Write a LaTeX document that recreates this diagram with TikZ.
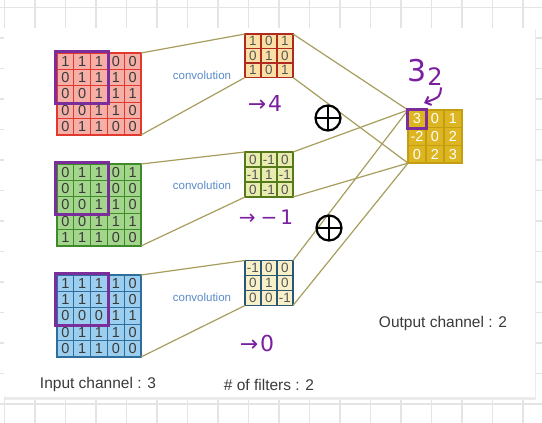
\documentclass[tikz,border=0pt]{standalone}
\usepackage{fontspec}
\setmainfont{Liberation Sans}
\newfontfamily\handfont{DejaVu Sans}
\usetikzlibrary{arrows.meta,fit}
\definecolor{redfill}{HTML}{F5AFA6}
\definecolor{redline}{HTML}{E03A2E}
\definecolor{grnfill}{HTML}{A3D68C}
\definecolor{grnline}{HTML}{3F8A2B}
\definecolor{blufill}{HTML}{9CCFEF}
\definecolor{bluline}{HTML}{2F6E9C}
\definecolor{fonefill}{HTML}{FBE0A6}
\definecolor{foneline}{HTML}{B02A1F}
\definecolor{ftwofill}{HTML}{E8ECAE}
\definecolor{ftwoline}{HTML}{56791C}
\definecolor{fthrfill}{HTML}{F8F0C8}
\definecolor{fthrline}{HTML}{2C5675}
\definecolor{outfill}{HTML}{DDB520}
\definecolor{outln}{HTML}{C29E10}
\definecolor{kernc}{HTML}{7B2D9B}
\definecolor{connc}{HTML}{A79E5E}
\definecolor{convc}{HTML}{5B8BC8}
\definecolor{handc}{HTML}{7A1FA0}
\definecolor{txtc}{HTML}{3A3A3A}
\definecolor{gridc}{HTML}{E4E4E4}
\newcommand{\cellmat}[8]{%
  \foreach \row [count=\i] in {#8} {
    \foreach \v [count=\j] in \row {
      \node[#7, minimum width=#5pt, minimum height=#6pt] (#1-\i-\j)
        at ({#3+(\j-0.5)*#5},{#4+(\i-0.5)*#6}) {\v};
    }
  }
  \node[#7, fit=(#1-1-1)(#1-#2-#2), inner sep=0pt, fill=none, line width=1.8pt] (#1) {};
}
\tikzset{
  cellbase/.style={rectangle, inner sep=0pt, outer sep=0pt, line width=1.1pt, text=txtc},
  redm/.style={cellbase, fill=redfill, draw=redline, font=\fontsize{14.5}{14.5}\selectfont},
  grnm/.style={cellbase, fill=grnfill, draw=grnline, font=\fontsize{14.5}{14.5}\selectfont},
  blum/.style={cellbase, fill=blufill, draw=bluline, font=\fontsize{14.5}{14.5}\selectfont},
  fone/.style={cellbase, fill=fonefill, draw=foneline, text=txtc!85, font=\fontsize{13.5}{13.5}\selectfont},
  ftwo/.style={cellbase, fill=ftwofill, draw=ftwoline, text=txtc!85, font=\fontsize{13.5}{13.5}\selectfont},
  fthr/.style={cellbase, fill=fthrfill, draw=fthrline, text=txtc!85, font=\fontsize{13.5}{13.5}\selectfont},
  outm/.style={cellbase, fill=outfill, draw=outln, text=white, font=\fontsize{14.5}{14.5}\selectfont},
  kbox/.style={draw=kernc, line width=3pt, inner sep=1.2pt, fill=none},
  conn/.style={draw=connc, line width=1.2pt},
  convlbl/.style={text=convc, font=\fontsize{11.5}{11.5}\selectfont},
  caption/.style={text=txtc, font=\fontsize{15.5}{15.5}\selectfont},
  handtxt/.style={text=handc, font=\handfont\fontsize{22}{22}\selectfont},
  pluscirc/.style={circle, draw=black, line width=2.2pt, minimum size=25pt, inner sep=0pt,
    path picture={\draw[line width=2.2pt] (path picture bounding box.north) -- (path picture bounding box.south)
      (path picture bounding box.west) -- (path picture bounding box.east);}}
}
\begin{document}
\begin{tikzpicture}[x=1pt,y=-1pt]
\useasboundingbox (0,0) rectangle (542,423);
% background grid and panel
\fill[white] (0,0) rectangle (542,423);
\foreach \k in {0,...,17} \draw[gridc, line width=1.2pt] ({4.5+30.5*\k},0) -- ++(0,423);
\foreach \k in {0,...,13} \draw[gridc, line width=1.2pt] (0,{7.5+30.5*\k}) -- ++(542,0);
\fill[black!8] (5,29) rectangle (536,400);
\fill[white] (4,28) rectangle (535,397);
% input matrices
\cellmat{R}{5}{57}{53}{16.8}{16.4}{redm}{{1,1,1,0,0},{0,1,1,1,0},{0,0,1,1,1},{0,0,1,1,0},{0,1,1,0,0}}
\cellmat{G}{5}{57}{164}{16.8}{16.4}{grnm}{{0,1,1,0,1},{0,1,1,0,0},{0,0,1,1,0},{0,0,1,1,1},{1,1,1,0,0}}
\cellmat{B}{5}{57}{275}{16.8}{16.4}{blum}{{1,1,1,1,0},{1,1,1,1,0},{0,0,0,1,1},{0,1,1,1,0},{0,1,1,0,0}}
% filters
\cellmat{FA}{3}{245}{34}{16}{14.5}{fone}{{1,0,1},{0,1,0},{1,0,1}}
\cellmat{FB}{3}{245}{152}{16}{15}{ftwo}{{0,-1,0},{-1,1,-1},{0,-1,0}}
\cellmat{FC}{3}{245}{260.5}{16}{15}{fthr}{{-1,0,0},{0,1,0},{0,0,-1}}
% output
\cellmat{O}{3}{408}{110}{18}{17.7}{outm}{{3,0,1},{-2,0,2},{0,2,3}}
% connectors
\draw[conn] (R.north east) -- (FA.north west);
\draw[conn] (R.south east) -- (FA.south west);
\draw[conn] (G.north east) -- (FB.north west);
\draw[conn] (G.south east) -- (FB.south west);
\draw[conn] (B.north east) -- (FC.north west);
\draw[conn] (B.south east) -- (FC.south west);
\draw[conn] (FA.north east) -- (O.north west);
\draw[conn] (FA.south east) -- (O.south west);
\draw[conn] (FB.north east) -- (O.north west);
\draw[conn] (FB.south east) -- (O.south west);
\draw[conn] (FC.north east) -- (O.north west);
\draw[conn] (FC.south east) -- (O.south west);
% kernel windows
\node[kbox, fit=(R-1-1)(R-3-3)] (Rk) {};
\node[kbox, fit=(G-1-1)(G-3-3)] (Gk) {};
\node[kbox, fit=(B-1-1)(B-3-3)] (Bk) {};
\node[kbox, line width=2.5pt, inner sep=0.6pt, fit=(O-1-1)] (Ok) {};
% labels
\node[convlbl] (c1) at (202,75) {convolution};
\node[convlbl] (c2) at (202,185) {convolution};
\node[convlbl] (c3) at (202,297) {convolution};
\node[caption] (ic) at (98,384) {Input channel : 3};
\node[caption] (nf) at (269,385) {\# of filters : 2};
\node[caption] (oc) at (443,323) {Output channel : 2};
% handwritten notes
\node[handtxt] (a1) at (265,103) {→\kern2pt4};
\node[handtxt, font=\handfont\fontsize{20}{20}\selectfont] (a2) at (266,217) {→\kern5pt−\kern3pt1};
\node[handtxt] (a3) at (257,343) {→\kern2pt0};
\node[handtxt, font=\handfont\fontsize{30}{30}\selectfont] (t3) at (417,71) {3};
\node[handtxt, font=\handfont\fontsize{24}{24}\selectfont] (t2) at (435,77) {2};
\coordinate (tip) at (424,103);
\draw[handc, line width=2pt, -{Straight Barb[length=5pt,width=9pt]}] ([xshift=6pt,yshift=2pt]t2.south) .. controls (440,97) .. (tip);
\node[pluscirc] (p1) at (328,118) {};
\node[pluscirc] (p2) at (329,228) {};
\end{tikzpicture}
\end{document}
